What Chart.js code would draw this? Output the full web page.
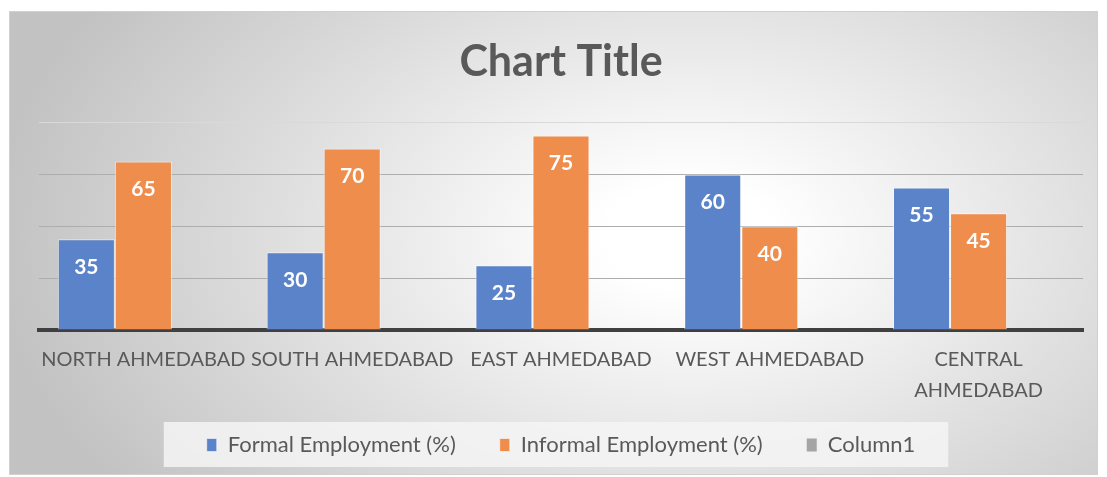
<!DOCTYPE html>
<html>
<head>
<meta charset="utf-8">
<script src="https://cdn.jsdelivr.net/npm/chart.js@4.4.9/dist/chart.umd.min.js"></script>
<style>
  html, body { margin: 0; padding: 0; background: #ffffff; }
  #wrap { position: absolute; left: 9px; top: 11px; width: 1089px; height: 464px; }
</style>
</head>
<body>
<div id="wrap"><canvas id="empChart"></canvas></div>
<script>
// Chart data
const categories = ['NORTH AHMEDABAD', 'SOUTH AHMEDABAD', 'EAST AHMEDABAD', 'WEST AHMEDABAD', ['CENTRAL', 'AHMEDABAD']];
const formalEmployment = [35, 30, 25, 60, 55];
const informalEmployment = [65, 70, 75, 40, 45];
const column1 = [null, null, null, null, null];
const seriesNames = ['Formal Employment (%)', 'Informal Employment (%)', 'Column1'];
const yTicks = [0, 20, 40, 60, 80];

const FONT = 'Lato, "Open Sans", sans-serif';
const TEXT = '#595959';

// Excel-like radial background + legend panel
const backgroundPlugin = {
    id: 'bgPanel',
    beforeDraw(chart) {
        // let the two-line category label run below the axis box
        chart.scales.x._computeLabelArea = () => null;

        const ctx = chart.ctx;
        const w = chart.width, h = chart.height;
        ctx.save();
        ctx.translate(680, 225);
        ctx.scale(1, 0.62);
        const g = ctx.createRadialGradient(0, 0, 0, 0, 0, 700);
        g.addColorStop(0, '#ffffff');
        g.addColorStop(0.12, '#ffffff');
        g.addColorStop(1, '#c2c2c2');
        ctx.fillStyle = g;
        ctx.fillRect(-800, -600, 1700, 1400);
        ctx.restore();

        ctx.save();
        ctx.strokeStyle = '#d0d0d0';
        ctx.lineWidth = 1;
        ctx.strokeRect(0.5, 0.5, w - 1, h - 1);

        // legend panel
        const boxes = chart.legend.legendHitBoxes;
        if (boxes && boxes.length) {
            const left = boxes[0].left - 43;
            const right = boxes[boxes.length - 1].left + boxes[boxes.length - 1].width + 33;
            ctx.fillStyle = 'rgba(244,244,244,0.85)';
            ctx.fillRect(left, 411, right - left, 45);
        }
        ctx.restore();
    }
};

// White value labels inside the top of each bar
const valueLabels = {
    id: 'valueLabels',
    afterDatasetsDraw(chart) {
        const ctx = chart.ctx;
        ctx.save();
        ctx.fillStyle = '#ffffff';
        ctx.font = 'bold 21px ' + FONT;
        ctx.textAlign = 'center';
        ctx.textBaseline = 'middle';
        chart.data.datasets.forEach((ds, i) => {
            chart.getDatasetMeta(i).data.forEach((bar, j) => {
                const v = ds.data[j];
                if (v == null) return;
                ctx.fillText(String(v), bar.x, bar.y + 28);
            });
        });
        ctx.restore();
    }
};

const ctx = document.getElementById('empChart').getContext('2d');
new Chart(ctx, {
    type: 'bar',
    data: {
        labels: categories,
        datasets: [
            {
                label: seriesNames[0],
                data: formalEmployment,
                backgroundColor: '#5b83c9',
                borderColor: 'rgba(255,255,255,0.55)',
                borderWidth: 1
            },
            {
                label: seriesNames[1],
                data: informalEmployment,
                backgroundColor: '#ee8d4c',
                borderColor: 'rgba(255,255,255,0.55)',
                borderWidth: 1
            },
            {
                label: seriesNames[2],
                data: column1,
                backgroundColor: '#a5a5a5',
                borderColor: '#a5a5a5',
                borderWidth: 0
            }
        ]
    },
    options: {
        responsive: true,
        maintainAspectRatio: false,
        animation: false,
        layout: { padding: { left: 30, right: 15, top: 20, bottom: 9 } },
        datasets: { bar: { categoryPercentage: 0.82, barPercentage: 1.0 } },
        plugins: {
            title: {
                display: true,
                text: 'Chart Title',
                color: TEXT,
                font: { family: FONT, size: 43, weight: 'bold' },
                padding: { top: 5, bottom: 35 }
            },
            legend: {
                position: 'bottom',
                labels: {
                    color: TEXT,
                    font: { family: FONT, size: 22 },
                    boxWidth: 10,
                    boxHeight: 13,
                    padding: 44
                }
            },
            tooltip: { enabled: false }
        },
        scales: {
            x: {
                afterFit(scale) { scale.height = 60; },
                grid: { display: false },
                border: { display: true, color: '#404040', width: 4 },
                ticks: {
                    color: TEXT,
                    font: { family: FONT, size: 20, lineHeight: 1.55 },
                    autoSkip: false,
                    maxRotation: 0,
                    minRotation: 0,
                    padding: 6
                }
            },
            y: {
                min: 0,
                max: 80,
                afterBuildTicks(scale) {
                    scale.ticks = yTicks.map(v => ({ value: v }));
                },
                ticks: { display: false },
                border: { display: false },
                grid: {
                    drawTicks: false,
                    lineWidth: 1,
                    color: c => c.tick.value === 0 ? 'rgba(0,0,0,0)' : (c.tick.value === 80 ? '#d9d9d9' : '#adadad')
                }
            }
        }
    },
    plugins: [backgroundPlugin, valueLabels]
});
</script>
</body>
</html>
